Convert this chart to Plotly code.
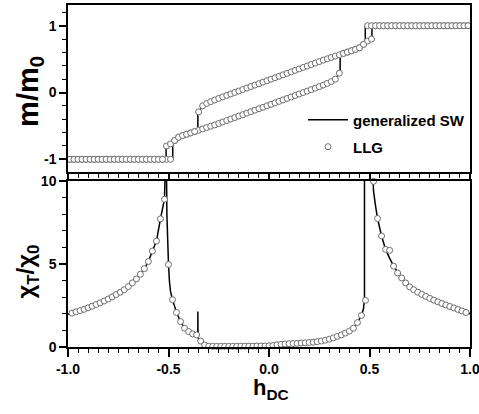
import plotly.graph_objects as go

# ---------------- data ----------------
# top panel: LLG magnetization, field sweep up / sweep down
h_top = [-0.99, -0.97, -0.95, -0.93, -0.91, -0.89, -0.87, -0.85, -0.83, -0.81,
         -0.79, -0.77, -0.75, -0.73, -0.71, -0.69, -0.67, -0.65, -0.63, -0.61,
         -0.59, -0.57, -0.55, -0.53, -0.51, -0.49, -0.47, -0.45, -0.43, -0.41,
         -0.39, -0.37, -0.35, -0.33, -0.31, -0.29, -0.27, -0.25, -0.23, -0.21,
         -0.19, -0.17, -0.15, -0.13, -0.11, -0.09, -0.07, -0.05, -0.03, -0.01,
         0.01, 0.03, 0.05, 0.07, 0.09, 0.11, 0.13, 0.15, 0.17, 0.19,
         0.21, 0.23, 0.25, 0.27, 0.29, 0.31, 0.33, 0.35, 0.37, 0.39,
         0.41, 0.43, 0.45, 0.47, 0.49, 0.51, 0.53, 0.55, 0.57, 0.59,
         0.61, 0.63, 0.65, 0.67, 0.69, 0.71, 0.73, 0.75, 0.77, 0.79,
         0.81, 0.83, 0.85, 0.87, 0.89, 0.91, 0.93, 0.95, 0.97, 0.99]

m_llg_up = [-1.0, -1.0, -1.0, -1.0, -1.0, -1.0, -1.0, -1.0, -1.0, -1.0,
            -1.0, -1.0, -1.0, -1.0, -1.0, -1.0, -1.0, -1.0, -1.0, -1.0,
            -1.0, -1.0, -1.0, -1.0, -1.0, -1.0, -0.72, -0.67, -0.645, -0.625,
            -0.605, -0.585, -0.565, -0.545, -0.525, -0.505, -0.485, -0.463, -0.441, -0.419,
            -0.397, -0.375, -0.353, -0.331, -0.309, -0.287, -0.265, -0.243, -0.221, -0.199,
            -0.177, -0.155, -0.133, -0.111, -0.089, -0.067, -0.045, -0.023, -0.001, 0.021,
            0.043, 0.065, 0.088, 0.112, 0.137, 0.165, 0.20, 0.29, 0.585, 0.605,
            0.625, 0.645, 0.67, 0.72, 0.77, 0.80, 1.0, 1.0, 1.0, 1.0,
            1.0, 1.0, 1.0, 1.0, 1.0, 1.0, 1.0, 1.0, 1.0, 1.0,
            1.0, 1.0, 1.0, 1.0, 1.0, 1.0, 1.0, 1.0, 1.0, 1.0]

m_llg_down = [-1.0, -1.0, -1.0, -1.0, -1.0, -1.0, -1.0, -1.0, -1.0, -1.0,
              -1.0, -1.0, -1.0, -1.0, -1.0, -1.0, -1.0, -1.0, -1.0, -1.0,
              -1.0, -1.0, -1.0, -1.0, -0.80, -0.77, -0.72, -0.67, -0.645, -0.625,
              -0.605, -0.585, -0.29, -0.20, -0.165, -0.137, -0.112, -0.088, -0.065, -0.043,
              -0.021, 0.001, 0.023, 0.045, 0.067, 0.089, 0.111, 0.133, 0.155, 0.177,
              0.199, 0.221, 0.243, 0.265, 0.287, 0.309, 0.331, 0.353, 0.375, 0.397,
              0.419, 0.441, 0.463, 0.485, 0.505, 0.525, 0.545, 0.565, 0.585, 0.605,
              0.625, 0.645, 0.67, 0.72, 1.0, 1.0, 1.0, 1.0, 1.0, 1.0,
              1.0, 1.0, 1.0, 1.0, 1.0, 1.0, 1.0, 1.0, 1.0, 1.0,
              1.0, 1.0, 1.0, 1.0, 1.0, 1.0, 1.0, 1.0, 1.0, 1.0]

# top panel: generalized SW branches
h_sw_up = [-1.0, -0.479, -0.479, -0.47, -0.45, -0.43, -0.41, -0.39, -0.37, -0.35,
           -0.25, -0.05, 0.15, 0.25, 0.29, 0.31, 0.33, 0.354, 0.354, 0.37,
           0.39, 0.41, 0.43, 0.45, 0.47, 0.49, 0.512, 0.512, 1.0]
m_sw_up = [-1.0, -1.0, -0.737, -0.72, -0.67, -0.645, -0.625, -0.605, -0.585, -0.565,
           -0.463, -0.243, -0.023, 0.088, 0.137, 0.165, 0.20, 0.31, 0.565, 0.585,
           0.605, 0.625, 0.645, 0.67, 0.72, 0.77, 0.81, 1.0, 1.0]
h_sw_down = [1.0, 0.479, 0.479, 0.47, 0.45, 0.43, 0.41, 0.39, 0.37, 0.35,
             0.25, 0.05, -0.15, -0.25, -0.29, -0.31, -0.33, -0.354, -0.354, -0.37,
             -0.39, -0.41, -0.43, -0.45, -0.47, -0.49, -0.512, -0.512, -1.0]
m_sw_down = [1.0, 1.0, 0.737, 0.72, 0.67, 0.645, 0.625, 0.605, 0.585, 0.565,
             0.463, 0.243, 0.023, -0.088, -0.137, -0.165, -0.20, -0.31, -0.565, -0.585,
             -0.605, -0.625, -0.645, -0.67, -0.72, -0.77, -0.81, -1.0, -1.0]

# bottom panel: LLG transverse susceptibility
h_chi_llg = [-0.98, -0.96, -0.94, -0.92, -0.90, -0.88, -0.86, -0.84, -0.82, -0.80,
             -0.78, -0.76, -0.74, -0.72, -0.70, -0.68, -0.66, -0.64, -0.62, -0.60,
             -0.58, -0.56, -0.54, -0.52, -0.50, -0.48, -0.46, -0.44, -0.42, -0.40,
             -0.38, -0.36, -0.34, -0.32, -0.30, -0.28, -0.26, -0.24, -0.22, -0.20,
             -0.18, -0.16, -0.14, -0.12, -0.10, -0.08, -0.06, -0.04, -0.02, 0.00,
             0.02, 0.04, 0.06, 0.08, 0.10, 0.12, 0.14, 0.16, 0.18, 0.20,
             0.22, 0.24, 0.26, 0.28, 0.30, 0.32, 0.34, 0.36, 0.38, 0.40,
             0.42, 0.44, 0.46, 0.48, 0.52, 0.54, 0.56, 0.58, 0.60, 0.62,
             0.64, 0.66, 0.68, 0.70, 0.72, 0.74, 0.76, 0.78, 0.80, 0.82,
             0.84, 0.86, 0.88, 0.90, 0.92, 0.94, 0.96, 0.98]
chi_llg = [2.04, 2.12, 2.19, 2.27, 2.36, 2.46, 2.56, 2.66, 2.77, 2.89,
           3.02, 3.16, 3.30, 3.45, 3.64, 3.86, 4.10, 4.38, 4.72, 5.15,
           5.78, 6.38, 7.72, 8.90, 4.97, 2.85, 2.08, 1.53, 1.13, 0.93,
           0.79, 0.73, 0.36, 0.12, 0.05, 0.04, 0.04, 0.04, 0.04, 0.04,
           0.04, 0.04, 0.05, 0.05, 0.05, 0.05, 0.06, 0.06, 0.06, 0.07,
           0.09, 0.13, 0.16, 0.18, 0.20, 0.21, 0.22, 0.24, 0.25, 0.27,
           0.29, 0.32, 0.36, 0.41, 0.47, 0.55, 0.64, 0.73, 0.84, 0.96,
           1.13, 1.47, 1.90, 2.81, 9.98, 7.74, 6.69, 5.88, 5.82, 4.87,
           4.46, 4.16, 3.86, 3.62, 3.45, 3.30, 3.17, 3.05, 2.93, 2.82,
           2.72, 2.62, 2.53, 2.44, 2.35, 2.26, 2.17, 2.08]

# bottom panel: generalized SW susceptibility
h_chi_sw = [-1.0, -0.98, -0.9, -0.8, -0.74, -0.7, -0.66, -0.62, -0.6, -0.58,
            -0.56, -0.54, -0.52, -0.514, -0.511, -0.508, -0.504, -0.5, -0.495, -0.49,
            -0.48, -0.47, -0.46, -0.44, -0.42, -0.4, -0.38, -0.36, -0.354, -0.354,
            -0.353, -0.34, -0.32, -0.3, -0.2, -0.1, 0.0, 0.04, 0.1, 0.2,
            0.26, 0.3, 0.34, 0.38, 0.42, 0.44, 0.46, 0.47, 0.475, 0.475,
            0.511, 0.514, 0.52, 0.53, 0.54, 0.56, 0.58, 0.6, 0.62, 0.66,
            0.7, 0.76, 0.8, 0.9, 1.0]
chi_sw = [1.97, 2.04, 2.36, 2.89, 3.30, 3.64, 4.10, 4.72, 5.15, 5.78,
          6.38, 7.72, 8.9, 12.0, 12.0, 8.0, 5.8, 4.97, 3.9, 3.35,
          2.85, 2.4, 2.08, 1.53, 1.13, 0.93, 0.79, 0.73, 0.72, 2.14,
          0.55, 0.36, 0.12, 0.05, 0.04, 0.05, 0.07, 0.13, 0.20, 0.27,
          0.36, 0.47, 0.64, 0.84, 1.13, 1.47, 1.90, 2.3, 2.85, 12.0,
          12.0, 11.0, 9.4, 8.5, 7.74, 6.69, 5.88, 5.35, 4.87, 4.16,
          3.62, 3.17, 2.93, 2.44, 2.0]

# tick labels
x_tick_vals = [-1.0, -0.5, 0.0, 0.5, 1.0]
x_tick_text = ["-1.0", "-0.5", "0.0", "0.5", "1.0"]
m_tick_vals = [-1, 0, 1]
m_tick_text = ["-1", "0", "1"]
chi_tick_vals = [0, 5, 10]
chi_tick_text = ["0", "5", "10"]

# ---------------- figure ----------------
FONT = "Liberation Sans, Arial, sans-serif"
marker_style = dict(symbol="circle", size=6, color="white",
                    line=dict(color="#6e6e6e", width=1))
line_style = dict(color="black", width=1.5)

fig = go.Figure()
fig.add_trace(go.Scatter(x=h_sw_up, y=m_sw_up, mode="lines", line=line_style,
                         xaxis="x2", yaxis="y2", name="generalized SW",
                         legend="legend"))
fig.add_trace(go.Scatter(x=h_sw_down, y=m_sw_down, mode="lines", line=line_style,
                         xaxis="x2", yaxis="y2", showlegend=False))
fig.add_trace(go.Scatter(x=h_top, y=m_llg_up, mode="markers", marker=marker_style,
                         xaxis="x2", yaxis="y2", name="LLG", legend="legend2"))
fig.add_trace(go.Scatter(x=h_top, y=m_llg_down, mode="markers", marker=marker_style,
                         xaxis="x2", yaxis="y2", showlegend=False))
fig.add_trace(go.Scatter(x=h_chi_sw, y=chi_sw, mode="lines", line=line_style,
                         xaxis="x", yaxis="y", showlegend=False))
fig.add_trace(go.Scatter(x=h_chi_llg, y=chi_llg, mode="markers", marker=marker_style,
                         xaxis="x", yaxis="y", showlegend=False, cliponaxis=False))

tickfont = dict(family=FONT, size=14, color="black", weight="bold")
common_axis = dict(showline=True, linecolor="black", linewidth=1.5, mirror=True,
                   showgrid=False, zeroline=False, ticks="outside",
                   tickcolor="black", tickwidth=1.5, tickfont=tickfont,
                   ticklabeloverflow="allow")

fig.update_layout(
    width=479, height=414, autosize=False,
    margin=dict(l=68, r=9, t=5, b=67, autoexpand=False),
    paper_bgcolor="white", plot_bgcolor="white",
    xaxis=dict(common_axis, domain=[0, 1], anchor="y", range=[-1, 1],
               tickmode="array", tickvals=x_tick_vals, ticktext=x_tick_text,
               ticklen=8,
               minor=dict(dtick=0.05, tick0=0, ticks="outside", ticklen=4,
                          tickwidth=1, tickcolor="black")),
    yaxis=dict(common_axis, domain=[0, 0.4854], anchor="x", range=[0, 10],
               tickmode="array", tickvals=chi_tick_vals, ticktext=chi_tick_text,
               ticklen=7,
               minor=dict(dtick=1, tick0=0, ticks="outside", ticklen=4,
                          tickwidth=1, tickcolor="black")),
    xaxis2=dict(common_axis, domain=[0, 1], anchor="y2", range=[-1, 1],
                tickmode="array", tickvals=x_tick_vals, ticktext=x_tick_text,
                showticklabels=False, ticklen=7,
                minor=dict(dtick=0.05, tick0=0, ticks="outside", ticklen=4,
                           tickwidth=1, tickcolor="black")),
    yaxis2=dict(common_axis, domain=[0.5117, 1], anchor="x2", range=[-1.19, 1.31],
                tickmode="array", tickvals=m_tick_vals, ticktext=m_tick_text,
                ticklen=7,
                minor=dict(dtick=0.2, tick0=0, ticks="outside", ticklen=4,
                           tickwidth=1, tickcolor="black")),
    legend=dict(x=0.5846, y=0.664, xanchor="left", yanchor="middle",
                bgcolor="rgba(0,0,0,0)", borderwidth=0, itemwidth=40,
                font=dict(family=FONT, size=15, color="black", weight="bold")),
    legend2=dict(x=0.5846, y=0.585, xanchor="left", yanchor="middle",
                 bgcolor="rgba(0,0,0,0)", borderwidth=0, itemwidth=40,
                 font=dict(family=FONT, size=15, color="black", weight="bold")),
    annotations=[
        dict(text="<b>m/m<sub>0</sub></b>", xref="paper", yref="paper",
             x=-0.0945, y=0.746, textangle=-90, showarrow=False,
             xanchor="center", yanchor="middle",
             font=dict(family=FONT, size=29, color="black")),
        dict(text="<b>χ<sub>T</sub>/χ<sub>0</sub></b>", xref="paper", yref="paper",
             x=-0.1, y=0.22, textangle=-90, showarrow=False,
             xanchor="center", yanchor="middle",
             font=dict(family=FONT, size=24, color="black")),
        dict(text="<b>h<sub>DC</sub></b>", xref="paper", yref="paper",
             x=0.504, y=-0.123, showarrow=False,
             xanchor="center", yanchor="middle",
             font=dict(family=FONT, size=22, color="black")),
    ],
)

fig.write_html("out.html", config={"responsive": False, "displayModeBar": False},
               post_script="document.body.style.margin='0';document.body.style.overflow='hidden';")
